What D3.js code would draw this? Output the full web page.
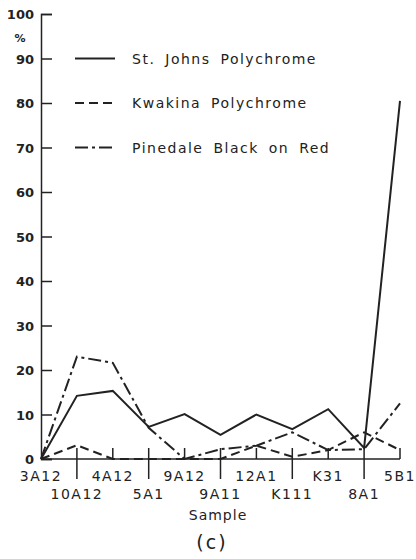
<!DOCTYPE html>
<html>
<head>
<meta charset="utf-8">
<script src="https://cdn.jsdelivr.net/npm/d3@7"></script>
<style>
  body { margin: 0; background: #fff; }
  svg { display: block; }
  text { font-family: "DejaVu Sans", sans-serif; fill: #222; }
</style>
</head>
<body>
<svg id="chart" width="416" height="559"></svg>
<script>
// échantillons (dans l'ordre de l'axe)
var samples = ["3A12", "10A12", "4A12", "5A1", "9A12", "9A11", "12A1", "K111", "K31", "8A1", "5B1"];
// étiquettes de la rangée basse
var lowerRow = ["10A12", "5A1", "9A11", "K111", "8A1"];
// valeurs en %
var stJohns  = [0, 14.2, 15.3, 7.2, 10.1, 5.4, 10, 6.7, 11.2, 2.5, 80.5];
var kwakina  = [0, 3.1, 0, 0, 0, 0, 3, 0.5, 2, 6, 2];
var pinedale = [0, 23, 21.6, 7, 0, 2.2, 3, 6, 2, 2.2, 12.5];
var yTicks = [0, 10, 20, 30, 40, 50, 60, 70, 80, 90, 100];

var seriesNames = ["St. Johns Polychrome", "Kwakina Polychrome", "Pinedale Black on Red"];
var seriesValues = [stJohns, kwakina, pinedale];
var dashes = [null, "9,5", "13,4,3,4"];

var svg = d3.select("#chart");

// échelles
var xScale = d3.scalePoint().domain(samples).range([41, 400]);
var yScale = d3.scaleLinear().domain([0, 100]).range([459, 14]);

// axe des ordonnées (graduations vers l'intérieur)
var yAxis = svg.append("g")
	.attr("transform", "translate(41,0)")
	.call(d3.axisRight(yScale).tickValues(yTicks).tickSize(11).tickFormat(""));
yAxis.select(".domain").attr("stroke", "#222").attr("stroke-width", 1.5);
yAxis.selectAll(".tick line").attr("stroke", "#222").attr("stroke-width", 1.5);

svg.selectAll("text.ylab")
	.data(yTicks)
	.enter().append("text")
	.attr("class", "ylab")
	.attr("x", 34)
	.attr("y", d => yScale(d) + 5)
	.attr("text-anchor", "end")
	.style("font-size", "13px")
	.style("font-weight", "bold")
	.text(d => d);

svg.append("text")
	.attr("x", 20).attr("y", 42)
	.attr("text-anchor", "middle")
	.style("font-size", "11px")
	.style("font-weight", "bold")
	.text("%");

// axe des abscisses
svg.append("line")
	.attr("x1", xScale(samples[0])).attr("x2", xScale(samples[samples.length - 1]))
	.attr("y1", yScale(0)).attr("y2", yScale(0))
	.attr("stroke", "#222").attr("stroke-width", 1.5);

svg.selectAll("line.xtick")
	.data(samples.slice(1))
	.enter().append("line")
	.attr("class", "xtick")
	.attr("x1", d => xScale(d)).attr("x2", d => xScale(d))
	.attr("y1", yScale(0) - 11)
	.attr("y2", d => lowerRow.indexOf(d) >= 0 ? yScale(0) + 20 : yScale(0))
	.attr("stroke", "#222").attr("stroke-width", 1.5);

svg.selectAll("text.xlab")
	.data(samples)
	.enter().append("text")
	.attr("class", "xlab")
	.attr("x", d => xScale(d))
	.attr("y", d => lowerRow.indexOf(d) >= 0 ? 499 : 481)
	.attr("text-anchor", "middle")
	.style("font-size", "14px")
	.style("letter-spacing", "1.5px")
	.text(d => d);

svg.append("text")
	.attr("x", 218).attr("y", 520)
	.attr("text-anchor", "middle")
	.style("font-size", "14px")
	.style("letter-spacing", "1px")
	.text("Sample");

svg.append("text")
	.attr("x", 212).attr("y", 549)
	.attr("text-anchor", "middle")
	.style("font-size", "19px")
	.style("letter-spacing", "2px")
	.text("(c)");

// courbes
var line = d3.line()
	.x((d, i) => xScale(samples[i]))
	.y(d => yScale(d));

svg.selectAll("path.serie")
	.data(seriesValues)
	.enter().append("path")
	.attr("class", "serie")
	.attr("d", d => line(d))
	.attr("fill", "none")
	.attr("stroke", "#222")
	.attr("stroke-width", 2)
	.attr("stroke-dasharray", (d, i) => dashes[i]);

// légende
var legendY = [yScale(90), yScale(80), yScale(70)];
var legend = svg.selectAll("g.legend")
	.data(seriesNames)
	.enter().append("g")
	.attr("class", "legend")
	.attr("transform", (d, i) => `translate(0, ${legendY[i]})`);

legend.append("line")
	.attr("x1", 75).attr("x2", 115)
	.attr("stroke", "#222").attr("stroke-width", 2)
	.attr("stroke-dasharray", (d, i) => dashes[i]);

legend.append("text")
	.attr("x", 132).attr("y", 5)
	.style("font-size", "14px")
	.style("letter-spacing", "1.5px")
	.style("word-spacing", "4px")
	.text(d => d);
</script>
</body>
</html>
